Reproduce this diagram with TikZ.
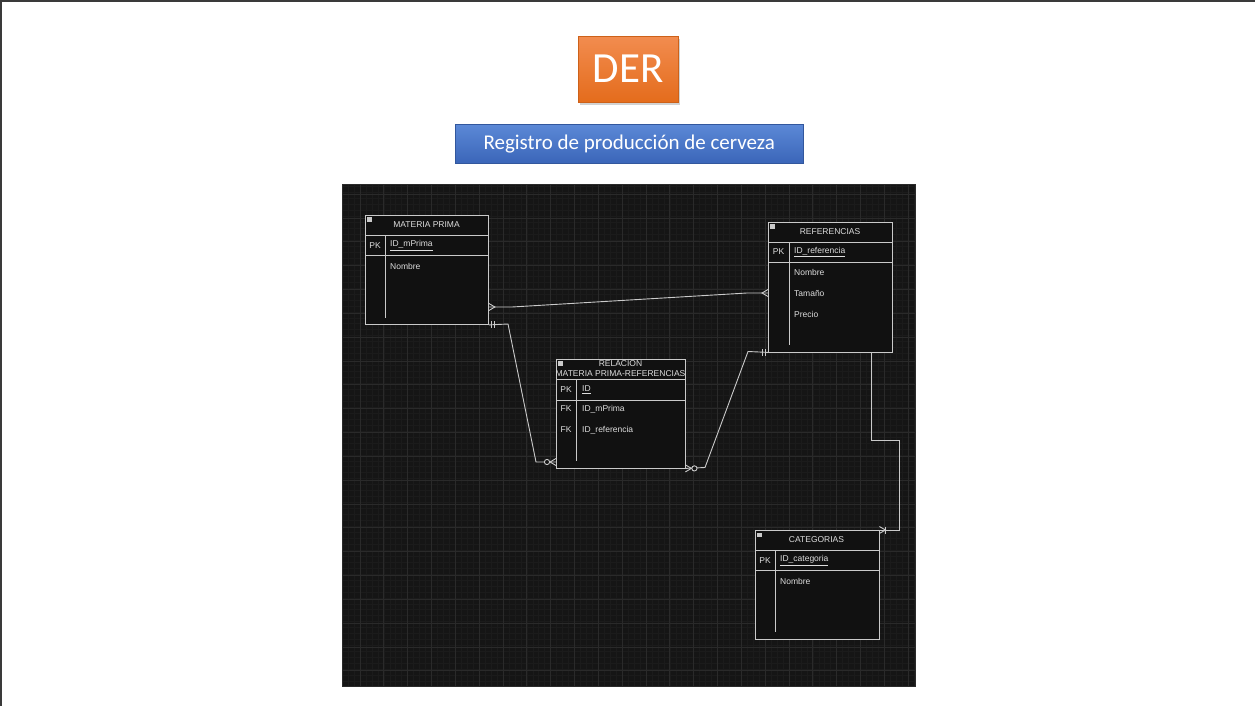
\documentclass[tikz,border=0pt]{standalone}
\usepackage{fontspec}
\setmainfont{Liberation Sans}
\newfontfamily\slidefont{Carlito}
\usetikzlibrary{shadows}
\definecolor{framegray}{HTML}{3A3A3A}
\definecolor{panelbg}{HTML}{151515}
\definecolor{gridminor}{HTML}{1B1B1B}
\definecolor{gridmajor}{HTML}{2A2A2A}
\definecolor{entgray}{HTML}{CACACA}
\definecolor{entfill}{HTML}{111111}
\definecolor{enttext}{HTML}{DEDEDE}
\definecolor{dertop}{HTML}{F28C4F}
\definecolor{derbot}{HTML}{E46C1C}
\definecolor{bluetop}{HTML}{5B88D6}
\definecolor{bluebot}{HTML}{3B66B9}
\tikzset{
	entline/.style={draw=entgray, line width=0.9pt},
	enttab/.style={entline, fill=entfill, anchor=north west, inner sep=0pt},
	enttxt/.style={text=enttext, font=\fontsize{8.5}{10}\selectfont, inner sep=0pt},
	fieldtxt/.style={enttxt, anchor=west},
	iconbox/.style={fill=entgray, draw=none},
	crowfoot/.pic={\draw[entline] (0,-3.5) -- (6,0) -- (0,3.5);},
	onebar/.pic={\draw[entline] (#1,-3.5) -- (#1,3.5);},
	onebar/.default=3,
	ringmark/.pic={\draw[entline, fill=panelbg] (9,0) circle (2.6);},
}
\begin{document}
\begin{tikzpicture}[x=1pt, y=-1pt]
	\useasboundingbox (0,0) rectangle (1255,706);
	\fill[white] (0,0) rectangle (1255,706);
	\fill[framegray] (0,0) rectangle (1255,2);
	\fill[framegray] (0,0) rectangle (2,706);
	\node[top color=dertop, bottom color=derbot, draw=derbot!90!black, line width=0.4pt,
		minimum width=100, minimum height=66, inner sep=0pt, anchor=north west,
		drop shadow={opacity=0.35, shadow xshift=2pt, shadow yshift=-2.5pt},
		text=white, font=\slidefont\fontsize{43}{43}\selectfont] (der) at (578,36) {DER};
	\node[top color=bluetop, bottom color=bluebot, draw=bluebot!85!black, line width=0.5pt,
		minimum width=348, minimum height=38, inner sep=0pt, anchor=north west,
		text=white, font=\slidefont\fontsize{21}{21}\selectfont] (titulo) at (455,124.5) {\raisebox{-1pt}{Registro de producción de cerveza}};
	\fill[panelbg] (342,184) rectangle (915,686);
	\begin{scope}
		\clip (342,184) rectangle (915,686);
		\foreach \i in {0,...,97}{
			\draw[gridminor, line width=0.6pt] (336.2+5.958*\i,184) -- (336.2+5.958*\i,686);
		}
		\foreach \j in {0,...,85}{
			\draw[gridminor, line width=0.6pt] (342,180.8+5.958*\j) -- (915,180.8+5.958*\j);
		}
		\foreach \i in {0,...,24}{
			\draw[gridmajor, line width=0.8pt] (336.2+23.83*\i,184) -- (336.2+23.83*\i,686);
		}
		\foreach \j in {0,...,21}{
			\draw[gridmajor, line width=0.8pt] (342,194.2+23.83*\j) -- (915,194.2+23.83*\j);
		}
	\end{scope}
	\draw[gridmajor, line width=1pt] (342,184) rectangle (915,686);
	\node[enttab, minimum width=123, minimum height=109] (mp) at (365,215) {};
	\draw[entline] (365,235) -- (488,235);
	\draw[entline] (365,255.5) -- (488,255.5);
	\draw[entline] (385,235) -- (385,318);
	\fill[iconbox] (367,217) rectangle (372,221.5);
	\node[enttxt] (mpt) at (426.5,225) {MATERIA PRIMA};
	\node[enttxt] (mpk) at (375,245.5) {PK};
	\node[fieldtxt] (mpid) at (390,245.5) {\underline{ID\_mPrima}};
	\node[fieldtxt] (mpf1) at (390,266) {Nombre};
	\node[enttab, minimum width=124, minimum height=130] (ref) at (768,221.5) {};
	\draw[entline] (768,242) -- (892,242);
	\draw[entline] (768,262.5) -- (892,262.5);
	\draw[entline] (789,242) -- (789,345);
	\fill[iconbox] (770,224) rectangle (775,228.5);
	\node[enttxt] (reft) at (830,231.5) {REFERENCIAS};
	\node[enttxt] (refk) at (778.5,252) {PK};
	\node[fieldtxt] (refid) at (794,252) {\underline{ID\_referencia}};
	\foreach \y\t [count=\k] in {272.5/Nombre,293/Tamaño,314/Precio}{
		\node[fieldtxt] (reff\k) at (794,\y) {\t};
	}
	\node[enttab, minimum width=128.5, minimum height=109] (rel) at (556,358.5) {};
	\draw[entline] (556,379.5) -- (684.5,379.5);
	\draw[entline] (556,400) -- (684.5,400);
	\draw[entline] (576.5,379.5) -- (576.5,461);
	\fill[iconbox] (558,361) rectangle (563,365.5);
	\node[enttxt, align=center] (relt) at (620.5,368.5) {RELACION\\MATERIA PRIMA-REFERENCIAS};
	\node[enttxt] (relk) at (566,389.5) {PK};
	\node[fieldtxt] (relid) at (582,389.5) {\underline{ID}};
	\foreach \y\t [count=\k] in {409/ID\_mPrima,430/ID\_referencia}{
		\node[enttxt] (relfk\k) at (566,\y) {FK};
		\node[fieldtxt] (relf\k) at (582,\y) {\t};
	}
	\node[enttab, minimum width=123.5, minimum height=108.5] (cat) at (755,530) {};
	\draw[entline] (755,550.5) -- (878.5,550.5);
	\draw[entline] (755,570.5) -- (878.5,570.5);
	\draw[entline] (775.5,550.5) -- (775.5,632);
	\fill[iconbox] (757,532.5) rectangle (762,537);
	\node[enttxt] (catt) at (816.5,540) {CATEGORIAS};
	\node[enttxt] (catk) at (765,560.5) {PK};
	\node[fieldtxt] (catid) at (780,560.5) {\underline{ID\_categoria}};
	\node[fieldtxt] (catf1) at (780,581) {Nombre};
	\draw[entline] (mp.east |- 0,307) -- (512,307) -- (747,293) -- (ref.west |- 0,293);
	\pic at (mp.east |- 0,307) {crowfoot};
	\pic[rotate=180] at (ref.west |- 0,293) {crowfoot};
	\draw[entline] (mp.south east) -- (508,324) -- (536,462) -- (rel.west |- 0,462);
	\pic at (mp.south east) {onebar=3};
	\pic at (mp.south east) {onebar=6};
	\pic[rotate=180] at (rel.west |- 0,462) {crowfoot};
	\pic[rotate=180] at (rel.west |- 0,462) {ringmark};
	\draw[entline] (rel.south east) -- (705,467.5) -- (748,351.5) -- (ref.south west);
	\pic at (rel.south east) {crowfoot};
	\pic at (rel.south east) {ringmark};
	\pic[rotate=180] at (ref.south west) {onebar=3};
	\pic[rotate=180] at (ref.south west) {onebar=6};
	\draw[entline] (871,0 |- ref.south) -- (871,440) -- (899,440) -- (899,530) -- (cat.north east);
	\pic at (cat.north east) {crowfoot};
	\pic at (cat.north east) {onebar=6.5};
\end{tikzpicture}
\end{document}
